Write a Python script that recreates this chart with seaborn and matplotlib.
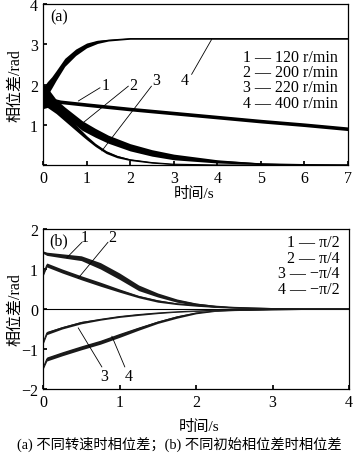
import matplotlib
matplotlib.use("Agg")
import matplotlib.pyplot as plt
import seaborn as sns

# ---------------- data ----------------
# (a) phase difference at different speeds: time, centre, half band width
ta1 = [0, 0.15, 0.4, 1, 2, 3, 4, 5, 6, 7]
a1 = [1.8, 1.62, 1.57, 1.5, 1.39, 1.29, 1.19, 1.09, 1.0, 0.9]
a1w = [0.25, 0.06, 0.045, 0.045, 0.045, 0.045, 0.045, 0.045, 0.045, 0.045]

ta2 = [0, 0.1, 0.3, 0.5, 0.7, 0.9, 1.2, 1.5, 2, 2.5, 3, 4, 5, 6, 7]
a2 = [1.75, 1.72, 1.5, 1.32, 1.15, 0.98, 0.8, 0.64, 0.44, 0.3, 0.2, 0.09, 0.03, 0.01, 0.0]
a2w = [0.25, 0.2, 0.13, 0.12, 0.12, 0.12, 0.11, 0.1, 0.09, 0.08, 0.07, 0.04, 0.02, 0.01, 0.01]

ta3 = [0, 0.1, 0.3, 0.6, 0.9, 1.0, 1.2, 1.45, 1.7, 2, 2.5, 3, 4, 7]
a3 = [1.6, 1.58, 1.38, 1.08, 0.78, 0.68, 0.5, 0.32, 0.21, 0.13, 0.06, 0.02, 0.0, 0.0]
a3w = [0.2, 0.15, 0.1, 0.08, 0.06, 0.05, 0.04, 0.035, 0.03, 0.02, 0.015, 0.01, 0.01, 0.01]

ta4 = [0, 0.1, 0.2, 0.3, 0.5, 0.75, 1.0, 1.25, 1.5, 2, 7]
a4 = [1.7, 1.9, 2.05, 2.22, 2.55, 2.8, 2.97, 3.06, 3.1, 3.14, 3.14]
a4w = [0.22, 0.17, 0.14, 0.12, 0.1, 0.08, 0.06, 0.04, 0.02, 0.015, 0.015]

legend_a = ["1 — 120 r/min", "2 — 200 r/min", "3 — 220 r/min", "4 — 400 r/min"]

# (b) phase difference for different initial phase differences
tb = [0, 0.05, 0.25, 0.5, 0.75, 1.0, 1.25, 1.5, 1.75, 2.0, 2.25, 2.5, 3.0, 3.5, 4.0]
b1 = [1.42, 1.38, 1.33, 1.27, 1.08, 0.82, 0.53, 0.35, 0.21, 0.12, 0.07, 0.04, 0.01, 0.0, 0.0]
b1w = [0.03, 0.04, 0.05, 0.06, 0.08, 0.08, 0.07, 0.05, 0.04, 0.03, 0.02, 0.01, 0.01, 0.01, 0.01]
b2 = [0.85, 1.1, 0.95, 0.78, 0.62, 0.46, 0.31, 0.2, 0.13, 0.09, 0.05, 0.03, 0.01, 0.0, 0.0]
b2w = [0.03, 0.05, 0.05, 0.05, 0.05, 0.04, 0.03, 0.03, 0.02, 0.02, 0.01, 0.01, 0.01, 0.01, 0.01]
b3 = [-0.85, -0.6, -0.47, -0.34, -0.26, -0.19, -0.14, -0.1, -0.07, -0.05, -0.03, -0.02, -0.01, 0.0, 0.0]
b3w = [0.03, 0.04, 0.03, 0.03, 0.02, 0.02, 0.02, 0.015, 0.01, 0.01, 0.01, 0.01, 0.01, 0.01, 0.01]
b4 = [-1.48, -1.25, -1.12, -0.97, -0.83, -0.66, -0.49, -0.33, -0.2, -0.1, -0.05, -0.03, -0.01, 0.0, 0.0]
b4w = [0.03, 0.05, 0.05, 0.05, 0.05, 0.05, 0.04, 0.03, 0.03, 0.02, 0.01, 0.01, 0.01, 0.01, 0.01]

legend_b = ["1 — π/2", "2 — π/4", "3 — −π/4", "4 — −π/2"]

# curve label pointers: (label, label x, label y, line x0, y0, x1, y1)
ptr_a = [("1", 1.43, 1.98, 1.31, 1.92, 0.81, 1.59),
         ("2", 2.08, 2.0, 1.96, 1.96, 0.92, 1.05),
         ("3", 2.6, 2.12, 2.49, 1.96, 1.35, 0.35),
         ("4", 3.26, 2.12, 3.41, 2.25, 3.87, 3.12)]
ptr_b = [("1", 0.55, 1.8, 0.51, 1.67, 0.31, 1.28),
         ("2", 0.9, 1.8, 0.85, 1.67, 0.46, 0.77),
         ("3", 0.8, -1.67, 0.77, -1.45, 0.46, -0.47),
         ("4", 1.12, -1.67, 1.07, -1.45, 0.9, -0.68)]

# ---------------- styling ----------------
sns.set_theme(style="ticks")
plt.rcParams['font.family'] = ['Liberation Serif', 'Noto Sans CJK SC']
plt.rcParams.update({
    'axes.edgecolor': 'black', 'axes.linewidth': 0.9,
    'xtick.color': 'black', 'ytick.color': 'black',
    'text.color': 'black', 'axes.labelcolor': 'black',
    'xtick.direction': 'in', 'ytick.direction': 'in',
    'xtick.major.size': 3, 'ytick.major.size': 3,
    'xtick.labelsize': 11.5, 'ytick.labelsize': 11.5,
})

W, H = 356, 460
fig = plt.figure(figsize=(W / 100, H / 100), dpi=100)
ax1 = fig.add_axes([43 / W, 1 - 166 / H, 305 / W, 161 / H])
ax2 = fig.add_axes([43 / W, 1 - 390 / H, 306 / W, 160 / H])


def band(ax, t, c, w, color='black'):
    lo = [ci - wi for ci, wi in zip(c, w)]
    hi = [ci + wi for ci, wi in zip(c, w)]
    ax.fill_between(t, lo, hi, color=color, lw=0)
    sns.lineplot(x=t, y=c, ax=ax, color=color, lw=0.8, estimator=None, sort=False)


# ---------------- panel (a) ----------------
for t, c, w in [(ta1, a1, a1w), (ta2, a2, a2w), (ta3, a3, a3w), (ta4, a4, a4w)]:
    band(ax1, t, c, w)
for lab, lx, ly, x0, y0, x1, y1 in ptr_a:
    ax1.plot([x0, x1], [y0, y1], color='black', lw=0.6)
    ax1.text(lx, ly, lab, fontsize=11.5, ha='center', va='center')
ax1.set_xlim(0, 7)
ax1.set_ylim(0, 4)
ax1.set_xticks(range(8))
ax1.set_yticks(range(5))
ax1.set_yticklabels(['', '1', '2', '3', '4'])
ax1.set_xlabel("")
ax1.set_ylabel("")
ax1.text(0.025, 0.92, "(a)", transform=ax1.transAxes, fontsize=11.5, va='center')
for i, s in enumerate(legend_a):
    fig.text(338 / W, 1 - (58 + 15.2 * i) / H, s, ha='right', va='center', fontsize=11.5)

# ---------------- panel (b) ----------------
ax2.axhline(0, color='black', lw=0.8)
for c, w in [(b1, b1w), (b2, b2w), (b3, b3w), (b4, b4w)]:
    band(ax2, tb, c, w, color='0.1')
for lab, lx, ly, x0, y0, x1, y1 in ptr_b:
    ax2.plot([x0, x1], [y0, y1], color='black', lw=0.6)
    ax2.text(lx, ly, lab, fontsize=11.5, ha='center', va='center')
ax2.set_xlim(0, 4)
ax2.set_ylim(-2, 2)
ax2.set_xticks(range(5))
ax2.set_yticks([-2, -1, 0, 1, 2])
ax2.set_xlabel("")
ax2.set_ylabel("")
ax2.text(0.02, 0.93, "(b)", transform=ax2.transAxes, fontsize=11.5, va='center')
for i, s in enumerate(legend_b):
    fig.text(340 / W, 1 - (243 + 15.7 * i) / H, s, ha='right', va='center', fontsize=11.5)

# axis titles and caption
for ylab_y in (86, 310):
    fig.text(15 / W, 1 - ylab_y / H, "相位差/rad", rotation=90, ha='center', va='center', fontsize=11.5)
fig.text(194 / W, 1 - 194 / H, "时间/s", ha='center', va='center', fontsize=11)
fig.text(199 / W, 1 - 427 / H, "时间/s", ha='center', va='center', fontsize=11)
fig.text(179 / W, 1 - 444 / H, "(a) 不同转速时相位差；(b) 不同初始相位差时相位差",
         ha='center', va='center', fontsize=10.3, fontweight='light')

fig.savefig("out.png", dpi=100)
